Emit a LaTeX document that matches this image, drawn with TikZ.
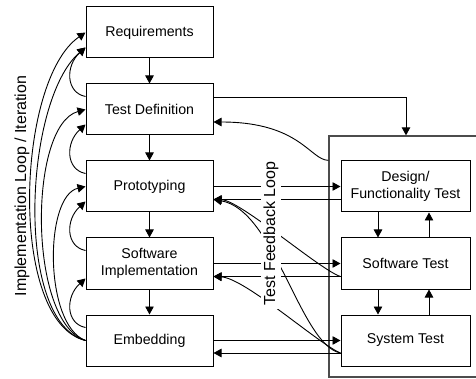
\documentclass[tikz,border=0pt]{standalone}
\usepackage{fontspec}
\setmainfont{Liberation Sans}
\usetikzlibrary{arrows.meta}
\newcommand{\bxfont}{\fontsize{14.2}{17.3}\selectfont}
\newcommand{\lblfont}{\fontsize{16}{19}\selectfont}
\begin{document}
\begin{tikzpicture}[x=1pt,y=-1pt,line width=0.9pt,
  stage/.style={draw, line width=1pt, minimum width=127pt, minimum height=51pt, inner sep=0pt, align=center, font=\bxfont},
  testst/.style={draw, line width=1pt, minimum width=129pt, minimum height=51pt, inner sep=0pt, align=center, font=\bxfont},
  arr/.style={-{Triangle[length=8pt,width=8.5pt]}},
  lbl/.style={font=\lblfont, rotate=90, inner sep=3pt}]
\useasboundingbox (0,0) rectangle (476,379);

% big test box
\node[draw=black!70, line width=1.3pt, minimum width=154pt, minimum height=241pt, inner sep=0pt] (tbox) at (406,256.5) {};

% development stages
\node[stage] (req) at (149.5,32.5) {Requirements};
\node[stage] (td) at (149.5,109.5) {Test Definition};
\node[stage] (proto) at (149.5,186.5) {Prototyping};
\node[stage] (si) at (149.5,263.5) {Software\\Implementation};
\node[stage] (emb) at (149.5,340.5) {Embedding};

% test stages
\node[testst] (dft) at (405.5,186.5) {Design/\\Functionality Test};
\node[testst] (swt) at (405.5,263.5) {Software Test};
\node[testst] (syst) at (405.5,340.5) {System Test};

% main flow
\draw[arr] (req) -- (td);
\draw[arr] (td) -- (proto);
\draw[arr] (proto) -- (si);
\draw[arr] (si) -- (emb);

% test definition to test box
\draw[arr] ([yshift=12.5pt]td.east) -| (tbox.north);
\draw[arr] ([yshift=-25pt]tbox.north west) .. controls (310,160) and (300,122) .. ([yshift=-12.5pt]td.east);

% forward / backward lines
\draw[arr] (proto.east) -- (dft.west);
\draw[arr] ([yshift=-13pt]dft.west) -- ([yshift=-13pt]proto.east);
\draw[arr] (si.east) -- (swt.west);
\draw[arr] ([yshift=-13pt]swt.west) -- ([yshift=-13pt]si.east);
\draw[arr] (emb.east) -- (syst.west);
\draw[arr] ([yshift=-12.5pt]syst.west) -- ([yshift=-12.5pt]emb.east);

% feedback curves
\draw[arr] ([yshift=-13pt]swt.west) .. controls (320,270) and (240,200) .. ([yshift=-13pt]proto.east);
\draw[arr] ([yshift=-12.5pt]syst.west) .. controls (300,345) and (275,210) .. ([yshift=-13pt]proto.east);
\draw[arr] ([yshift=-12.5pt]syst.west) .. controls (320,345) and (245,278) .. ([yshift=-13pt]si.east);

% inner test arrows
\draw[arr] ([xshift=-27.5pt]dft.south) -- ([xshift=-27.5pt]swt.north);
\draw[arr] ([xshift=23.5pt]swt.north) -- ([xshift=23.5pt]dft.south);
\draw[arr] ([xshift=-27.5pt]swt.south) -- ([xshift=-27.5pt]syst.north);
\draw[arr] ([xshift=23.5pt]syst.north) -- ([xshift=23.5pt]swt.south);

% implementation loops (small)
\draw[arr] ([yshift=-13pt]td.north west) .. controls +(-20,-4) and +(-20,18) .. ([yshift=-15pt]req.west);
\draw[arr] ([yshift=-13pt]proto.north west) .. controls +(-20,-4) and +(-20,18) .. ([yshift=-15pt]td.west);
\draw[arr] ([yshift=-13pt]si.north west) .. controls +(-20,-4) and +(-20,18) .. ([yshift=-15pt]proto.west);
\draw[arr] ([yshift=-13pt]emb.north west) .. controls +(-20,-4) and +(-20,18) .. ([yshift=-15pt]si.west);

% implementation loops (large)
\draw[arr] (emb.west) .. controls (8,322) and (16,80) .. (req.west);
\draw[arr] (emb.west) .. controls (14,322) and (24,100) .. ([yshift=-15pt]req.west);
\draw[arr] (emb.west) .. controls (28,322) and (28,125) .. (td.west);
\draw[arr] (emb.west) .. controls (44,325) and (44,196) .. (proto.west);

% labels
\node[lbl, fill=white] (tfl) at (271,233.5) {Test Feedback Loop};
\node[lbl] (ill) at (22,186) {Implementation Loop / Iteration};
\end{tikzpicture}
\end{document}
